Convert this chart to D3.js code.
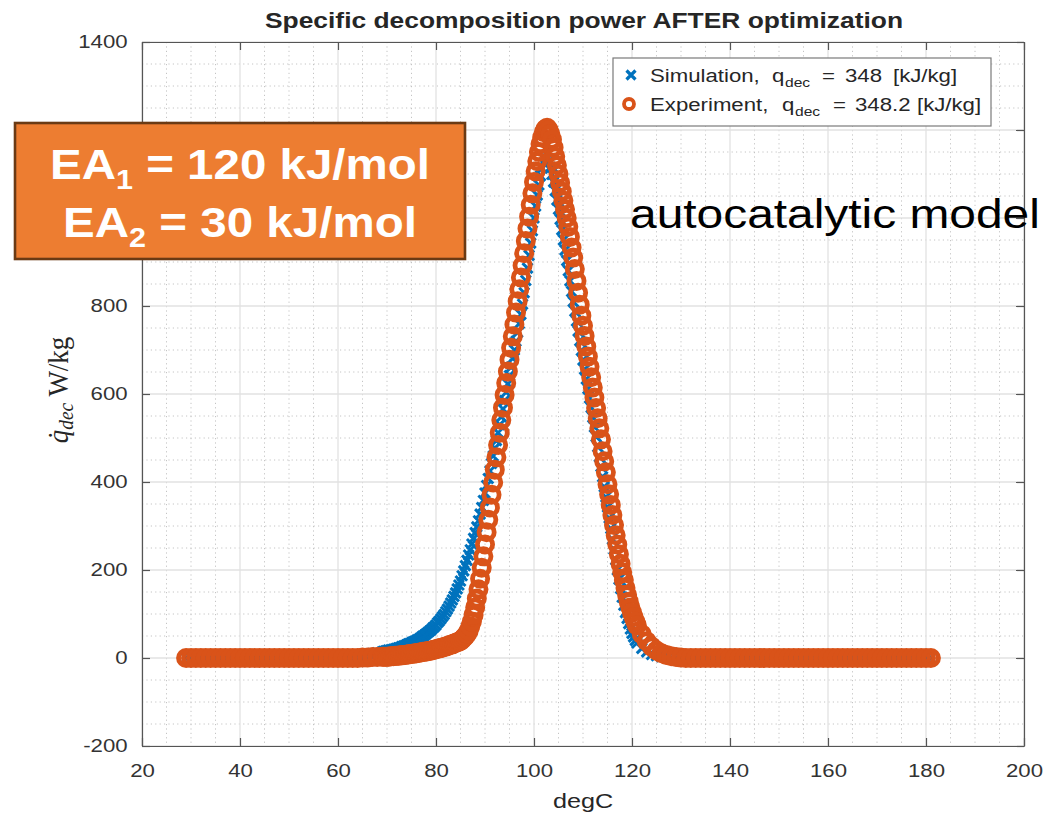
<!DOCTYPE html>
<html><head><meta charset="utf-8">
<script src="https://cdn.jsdelivr.net/npm/d3@7"></script>
<style>
body{margin:0;background:#fff}
svg{display:block;font-family:"Liberation Sans",Arial,Helvetica,sans-serif}
</style>
</head><body>
<svg id="c" width="1056" height="816"></svg>
<script>
// ---------------- DATA ----------------
const tempsLow1 = [29,30,31,32,33,34,35,36,37,38,39,40,41,42,43,44,45,46,47,48,49,50,51,52,53,54,55,56,57,58,59,60,61,62,63,64,65,66,67,68,69];
const expLow1 = [
  0,0,0,0,0,0,0,0,0,0,0,0,
  0,0,0,0,0,0,0,0,0,0,0,0,
  0,0,0,0,0,0,0,0,0,0,0,0,
  1,1,2,2,3];
const simLow1 = [
  0,0,0,0,0,0,0,0,0,0,0,0,
  0,0,0,0,0,0,0,0,0,0,0,0,
  0,0,0,0,0,
  1,2,2,3,4,5,6,7,9,10,12,14];

const tempsLow2 = [69.33,69.67,70,70.33,70.67,71,71.33,71.67,72,72.33,72.67,73,73.33,73.67,74,74.33,74.67,75,
  75.33,75.67,76,76.33,76.67,77,77.33,77.67,78,78.33,78.67,79,79.33,79.67,80,80.33,80.67,81,
  81.33,81.67,82,82.33,82.67,83,83.33,83.67,84,84.33,84.67,85];
const expLow2 = [3,3,3, 3,4,4, 4,5,5, 5,6,6, 7,7,8, 8,9,9,
  10,10,11, 12,12,13, 14,14,15, 16,16,17, 18,19,20, 21,22,23,
  24,25,26, 27,29,30, 31,33,34, 36,37,39];
const simLow2 = [15,16,17, 18,18,19, 20,21,22, 23,24,26, 27,28,30, 32,33,35,
  37,38,40, 42,44,47, 50,52,55, 58,61,64, 68,71,75, 80,84,89,
  94,99,105, 111,118,125, 132,140,148, 157,166,175];

const tempsPeak = [85.33,85.67,86,86.33,86.67,87,87.33,87.67,88,88.33,88.67,89,89.33,89.67,90,90.33,90.67,91,
  91.33,91.67,92,92.33,92.67,93,93.33,93.67,94,94.33,94.67,95,95.33,95.67,96,96.33,96.67,97,
  97.33,97.67,98,98.33,98.67,99,99.33,99.67,100,100.33,100.67,101,101.33,101.67,102,102.33,102.67,103,
  103.33,103.67,104,104.33,104.67,105,105.33,105.67,106,106.33,106.67,107,107.33,107.67,108,108.33,108.67,109,
  109.33,109.67,110,110.33,110.67,111,111.33,111.67,112,112.33,112.67,113,113.33,113.67,114,114.33,114.67,115,
  115.33,115.67,116,116.33,116.67,117,117.33,117.67,118,118.33,118.67,119,119.33,119.67,120,120.33,120.67,121];
const expPeak = [
  42,46,50, 55,62,72, 83,98,115, 135,156,180, 205,231,258, 286,314,342,
  371,399,428, 456,484,512, 541,569,598, 625,651,678, 705,731,758, 785,811,838,
  865,892,920, 948,976,1003, 1030,1056,1082, 1106,1129,1150, 1168,1183,1195, 1202,1205,1200,
  1191,1178,1160, 1140,1120,1100, 1080,1060,1040, 1020,1000,980, 957,933,910, 884,857,830,
  803,778,755, 732,708,685, 662,638,615, 592,568,545, 522,497,470, 447,422,395,
  372,348,325, 302,279,258, 236,214,195, 177,159,143, 128,115,103, 93,83,74];
const simPeak = [
  187,198,210, 222,234,246, 259,272,285, 298,312,327, 342,358,375, 392,408,425,
  442,459,477, 494,512,530, 548,566,585, 604,623,642, 661,681,700, 720,740,760,
  781,804,830, 858,886,915, 943,971,1000, 1027,1052,1075, 1096,1113,1125, 1133,1134,1128,
  1115,1099,1082, 1062,1041,1020, 997,973,950, 927,903,880, 857,833,810, 788,766,743,
  721,699,677, 656,634,612, 591,569,547, 525,503,480, 457,435,412, 389,366,343,
  318,294,270, 247,223,200, 179,158,138, 120,103,90, 78,66,56, 48,40,34];

const tempsHigh = [122,123,124,125,126,127,128,129,130,131,132,133,134,135,136,137,138,139,140,141,142,143,144,145,146,147,148,149,150,
  151,152,153,154,155,156,157,158,159,160,161,162,163,164,165,166,167,168,169,170,171,172,173,174,175,176,177,178,179,180,181];
const expHigh = [54,38,26,17,11,7,4,2,1,
  0,0,0,0,0,0,0,0,0,0,0,0,
  0,0,0,0,0,0,0,0,0,0,0,0,
  0,0,0,0,0,0,0,0,0,0,0,0,
  0,0,0,0,0,0,0,0,0,0,0,0,
  0,0,0];
const simHigh = [22,14,8,5,3,1,
  0,0,0,0,0,0,0,0,0,0,0,0,
  0,0,0,0,0,0,0,0,0,0,0,0,
  0,0,0,0,0,0,0,0,0,0,0,0,
  0,0,0,0,0,0,0,0,0,0,0,0,
  0,0,0,0,0,0];

const xTicks = [20,40,60,80,100,120,140,160,180,200];
const yTicks = [-200,0,200,400,600,800,1000,1200,1400];
const titleText = "Specific decomposition power AFTER optimization";
const seriesNames = ["Simulation,", "Experiment,"];
const qdecValues = ["348", "348.2"];

// ---------------- BUILD ----------------
const temps = tempsLow1.concat(tempsLow2, tempsPeak, tempsHigh);
const expVals = expLow1.concat(expLow2, expPeak, expHigh);
const simVals = simLow1.concat(simLow2, simPeak, simHigh);
const expData = temps.map((t,i)=>({t, q: expVals[i]})).filter(d=>d.q!==undefined);
const simData = temps.map((t,i)=>({t, q: simVals[i]})).filter(d=>d.q!==undefined);

const BLUE = "#0072BD", ORANGE = "#D95319";
const SX = 1.2;
const svg = d3.select("#c");
const L=142, R=1024, T=42, B=746;
const x = d3.scaleLinear().domain([20,200]).range([L,R]);
const y = d3.scaleLinear().domain([-200,1400]).range([B,T]);

// grid
const grid = svg.append("g");
grid.selectAll(".xm").data(x.ticks(36).filter(v=>!xTicks.includes(v))).join("line")
  .attr("x1",d=>x(d)).attr("x2",d=>x(d)).attr("y1",T).attr("y2",B)
  .attr("stroke","#c4c4c4").attr("stroke-width",1).attr("stroke-dasharray","1.2,3.2");
grid.selectAll(".ym").data(y.ticks(32).filter(v=>!yTicks.includes(v))).join("line")
  .attr("y1",d=>y(d)).attr("y2",d=>y(d)).attr("x1",L).attr("x2",R)
  .attr("stroke","#c4c4c4").attr("stroke-width",1).attr("stroke-dasharray","1.2,3.2");
grid.selectAll(".xg").data(xTicks).join("line")
  .attr("x1",d=>x(d)).attr("x2",d=>x(d)).attr("y1",T).attr("y2",B)
  .attr("stroke","#e2e2e2").attr("stroke-width",1.3);
grid.selectAll(".yg").data(yTicks).join("line")
  .attr("y1",d=>y(d)).attr("y2",d=>y(d)).attr("x1",L).attr("x2",R)
  .attr("stroke","#e2e2e2").attr("stroke-width",1.3);

// axes
const AX = "#555";
function styleAxis(g){
  g.select(".domain").attr("stroke",AX).attr("stroke-width",1.2);
  g.selectAll(".tick line").attr("stroke",AX).attr("stroke-width",1.2);
  g.selectAll(".tick text").attr("fill","#333").attr("font-size",18.5)
    .attr("font-family",'"Liberation Sans",Arial,sans-serif')
    .attr("transform",`scale(${SX},1)`);
}
const fmt = d => String(d);
svg.append("g").attr("transform",`translate(0,${B})`)
  .call(d3.axisBottom(x).tickValues(xTicks).tickFormat(fmt).tickSizeInner(-8).tickSizeOuter(0).tickPadding(18))
  .call(styleAxis);
svg.append("g").attr("transform",`translate(0,${T})`)
  .call(d3.axisTop(x).tickValues(xTicks).tickSizeInner(-8).tickSizeOuter(0).tickFormat(""))
  .call(styleAxis);
svg.append("g").attr("transform",`translate(${L},0)`)
  .call(d3.axisLeft(y).tickValues(yTicks).tickFormat(fmt).tickSizeInner(-8).tickSizeOuter(0).tickPadding(12))
  .call(styleAxis);
svg.append("g").attr("transform",`translate(${R},0)`)
  .call(d3.axisRight(y).tickValues(yTicks).tickSizeInner(-8).tickSizeOuter(0).tickFormat(""))
  .call(styleAxis);

// data: simulation (x markers) then experiment (circles)
const xs = 5;
svg.append("g").selectAll("path").data(simData).join("path")
  .attr("transform",d=>`translate(${x(d.t)},${y(d.q)})`)
  .attr("d",`M${-xs},${-xs}L${xs},${xs}M${-xs},${xs}L${xs},${-xs}`)
  .attr("stroke",BLUE).attr("stroke-width",3).attr("fill","none");
svg.append("g").selectAll("circle").data(expData).join("circle")
  .attr("cx",d=>x(d.t)).attr("cy",d=>y(d.q)).attr("r",7.6)
  .attr("fill","none").attr("stroke",ORANGE).attr("stroke-width",4.8);

// text helper: horizontally stretched text
function stext(parent, px, py, str, opts={}){
  const g = parent.append("g").attr("transform",`translate(${px},${py}) scale(${opts.sx||SX},1)`);
  const t = g.append("text").attr("x",0).attr("y",0)
    .attr("text-anchor",opts.anchor||"start")
    .attr("font-size",opts.size||18)
    .attr("font-weight",opts.weight||"normal")
    .attr("fill",opts.fill||"#262626")
    .style("white-space","pre");
  if (opts.family) t.attr("font-family",opts.family);
  if (str!==null) t.text(str);
  return t;
}

// title
stext(svg, 584, 28, titleText, {anchor:"middle", size:22, weight:"bold", fill:"#262626"});
// x label
stext(svg, 583, 808, "degC", {anchor:"middle", size:21, fill:"#262626"});

// y label (rotated)
{
  const g = svg.append("g").attr("transform",`translate(68,390) rotate(-90) scale(1.08,${SX})`);
  const t = g.append("text").attr("text-anchor","middle").attr("font-size",25)
    .attr("font-family",'"Liberation Serif","Times New Roman",serif').attr("fill","#262626");
  t.append("tspan").attr("font-style","italic").text("q\u0307");
  t.append("tspan").attr("font-style","italic").attr("font-size",18).attr("dy",4).text("dec");
  t.append("tspan").attr("dy",-4).text(" W/kg");
}

// legend
{
  const lg = svg.append("g");
  lg.append("rect").attr("x",613).attr("y",58).attr("width",378).attr("height",68)
    .attr("fill","#fff").attr("stroke","#7a7a7a").attr("stroke-width",1.2);
  lg.append("path").attr("transform","translate(631,75)")
    .attr("d","M-4.5,-4.5L4.5,4.5M-4.5,4.5L4.5,-4.5").attr("stroke",BLUE).attr("stroke-width",3.2);
  lg.append("circle").attr("cx",629).attr("cy",104).attr("r",5).attr("fill","none")
    .attr("stroke",ORANGE).attr("stroke-width",3.8);
  const rows = [
    {yb:82, name:seriesNames[0], val:qdecValues[0], xq:772, xd:785, xe:822, xv:845, xu:893},
    {yb:111, name:seriesNames[1], val:qdecValues[1], xq:782, xd:795, xe:833, xv:855, xu:917}
  ];
  rows.forEach(r=>{
    stext(lg, 650, r.yb, r.name, {size:18.5});
    stext(lg, r.xq, r.yb, "q", {size:18.5});
    stext(lg, r.xd, r.yb+5, "dec", {size:13});
    stext(lg, r.xe, r.yb, "=", {size:18.5});
    stext(lg, r.xv, r.yb, r.val, {size:18.5});
    stext(lg, r.xu, r.yb, "[kJ/kg]", {size:18.5});
  });
}

// annotation box
{
  const ag = svg.append("g");
  ag.append("rect").attr("x",15).attr("y",123).attr("width",450).attr("height",136)
    .attr("fill","#ED7D31").attr("stroke","#6B3A14").attr("stroke-width",2.6);
  const lines = [{yb:179, sub:"1", rest:" = 120 kJ/mol", w:380},{yb:237, sub:"2", rest:" = 30 kJ/mol", w:354}];
  lines.forEach(l=>{
    const g = ag.append("g").attr("transform",`translate(240,${l.yb})`);
    const t = g.append("text").attr("text-anchor","middle").attr("font-size",42)
      .attr("font-weight","bold").attr("fill","#fff");
    t.append("tspan").text("EA");
    t.append("tspan").attr("font-size",27).attr("dy",10).text(l.sub);
    t.append("tspan").attr("dy",-10).text(l.rest);
    const w = t.node().getBBox().width;
    g.attr("transform",`translate(240,${l.yb}) scale(${l.w/w},1)`);
  });
  // autocatalytic model
  const g2 = svg.append("g").attr("transform","translate(630,228)");
  const t2 = g2.append("text").attr("font-size",40).attr("fill","#000").text("autocatalytic model");
  const w2 = t2.node().getBBox().width;
  g2.attr("transform",`translate(630,228) scale(${410/w2},1)`);
}
</script>
</body></html>
